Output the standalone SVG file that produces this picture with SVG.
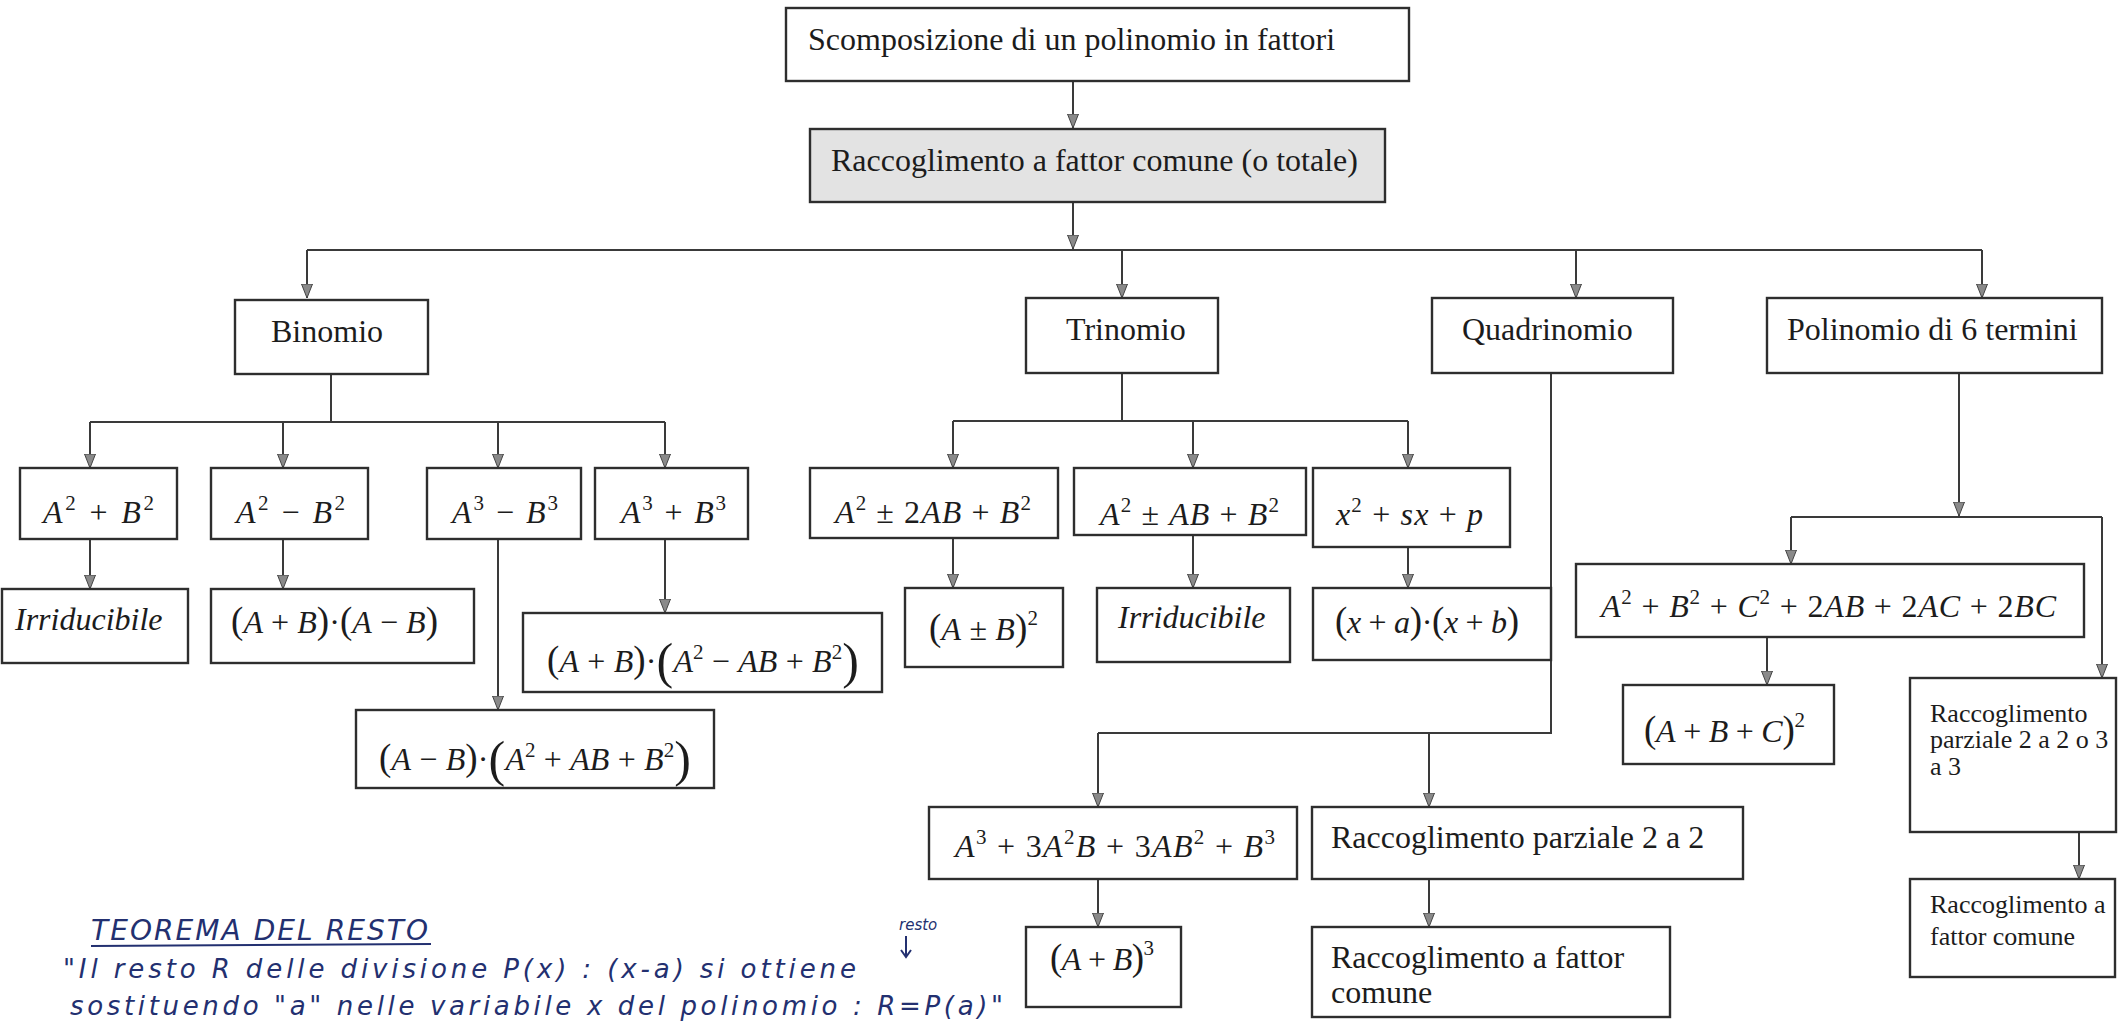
<svg xmlns="http://www.w3.org/2000/svg" width="2122" height="1027" viewBox="0 0 2122 1027">
<style>
.box{fill:#fff;stroke:#2e2e2e;stroke-width:2.4}
.gray{fill:#e3e3e3}
.conn path{fill:none;stroke:#3a3a3a;stroke-width:2}
text{font-family:"Liberation Serif","Times New Roman",serif;fill:#1c1c1c}
.t{font-size:32px}
.s{font-size:26px}
.m{font-size:32px}
.i{font-style:italic}
.sup{font-size:21px}
.p{font-size:37px}
.pb{font-size:50px}
.hw{font-family:"DejaVu Sans","Liberation Sans",sans-serif;font-style:italic;fill:#233070}
.hwl{fill:none;stroke:#233070;stroke-width:2}
</style>
<defs>
<marker id="arr" markerUnits="userSpaceOnUse" markerWidth="14" markerHeight="12" viewBox="0 0 14 12" refX="14" refY="6" orient="auto">
<path d="M0,0.5 L14,6 L0,11.5 z" fill="#8a8a8a" stroke="#444" stroke-width="1"/>
</marker>
</defs>
<rect width="2122" height="1027" fill="#fff"/>

<g id="connectors" class="conn">
<path d="M1073,81 V128" marker-end="url(#arr)"/>
<path d="M1073,202 V249" marker-end="url(#arr)"/>
<path d="M307,250 H1982"/>
<path d="M307,250 V298" marker-end="url(#arr)"/>
<path d="M1122,250 V298" marker-end="url(#arr)"/>
<path d="M1576,250 V298" marker-end="url(#arr)"/>
<path d="M1982,250 V298" marker-end="url(#arr)"/>
<!-- Binomio -->
<path d="M331,374 V422 M90,422 H665"/>
<path d="M90,422 V468" marker-end="url(#arr)"/>
<path d="M283,422 V468" marker-end="url(#arr)"/>
<path d="M498,422 V468" marker-end="url(#arr)"/>
<path d="M665,422 V468" marker-end="url(#arr)"/>
<path d="M90,539 V589" marker-end="url(#arr)"/>
<path d="M283,539 V589" marker-end="url(#arr)"/>
<path d="M498,539 V710" marker-end="url(#arr)"/>
<path d="M665,539 V613" marker-end="url(#arr)"/>
<!-- Trinomio -->
<path d="M1122,373 V421 M953,421 H1408"/>
<path d="M953,421 V468" marker-end="url(#arr)"/>
<path d="M1193,421 V468" marker-end="url(#arr)"/>
<path d="M1408,421 V468" marker-end="url(#arr)"/>
<path d="M953,538 V588" marker-end="url(#arr)"/>
<path d="M1193,535 V588" marker-end="url(#arr)"/>
<path d="M1408,547 V588" marker-end="url(#arr)"/>
<!-- Quadrinomio -->
<path d="M1551,373 V733 H1098"/>
<path d="M1098,733 V807" marker-end="url(#arr)"/>
<path d="M1429,733 V807" marker-end="url(#arr)"/>
<path d="M1098,879 V927" marker-end="url(#arr)"/>
<path d="M1429,879 V927" marker-end="url(#arr)"/>
<!-- Polinomio di 6 termini -->
<path d="M1959,373 V516" marker-end="url(#arr)"/>
<path d="M1791,517 H2102"/>
<path d="M1791,517 V564" marker-end="url(#arr)"/>
<path d="M2102,517 V678" marker-end="url(#arr)"/>
<path d="M1767,637 V685" marker-end="url(#arr)"/>
<path d="M2079,832 V879" marker-end="url(#arr)"/>
</g>

<g id="n-scomposizione"><rect class="box" x="786" y="8" width="623" height="73"/><text class="t" x="808" y="50">Scomposizione di un polinomio in fattori</text></g>
<g id="n-raccoglimento-totale"><rect class="box gray" x="810" y="129" width="575" height="73"/><text class="t" x="831" y="171">Raccoglimento a fattor comune (o totale)</text></g>
<g id="n-binomio"><rect class="box" x="235" y="300" width="193" height="74"/><text class="t" x="271" y="342">Binomio</text></g>
<g id="n-trinomio"><rect class="box" x="1026" y="298" width="192" height="75"/><text class="t" x="1066" y="340">Trinomio</text></g>
<g id="n-quadrinomio"><rect class="box" x="1432" y="298" width="241" height="75"/><text class="t" x="1462" y="340">Quadrinomio</text></g>
<g id="n-polinomio6"><rect class="box" x="1767" y="298" width="335" height="75"/><text class="t" x="1787" y="340">Polinomio di 6 termini</text></g>

<g id="n-a2pb2"><rect class="box" x="20" y="468" width="157" height="71"/><text class="m" x="43" y="523" textLength="111" lengthAdjust="spacing"><tspan class="i">A</tspan><tspan class="sup" dy="-13">2</tspan><tspan dy="13"> + </tspan><tspan class="i">B</tspan><tspan class="sup" dy="-13">2</tspan></text></g>
<g id="n-a2mb2"><rect class="box" x="211" y="468" width="157" height="71"/><text class="m" x="236" y="523" textLength="109" lengthAdjust="spacing"><tspan class="i">A</tspan><tspan class="sup" dy="-13">2</tspan><tspan dy="13"> − </tspan><tspan class="i">B</tspan><tspan class="sup" dy="-13">2</tspan></text></g>
<g id="n-a3mb3"><rect class="box" x="427" y="468" width="154" height="71"/><text class="m" x="452" y="523" textLength="106" lengthAdjust="spacing"><tspan class="i">A</tspan><tspan class="sup" dy="-13">3</tspan><tspan dy="13"> − </tspan><tspan class="i">B</tspan><tspan class="sup" dy="-13">3</tspan></text></g>
<g id="n-a3pb3"><rect class="box" x="595" y="468" width="153" height="71"/><text class="m" x="621" y="523" textLength="105" lengthAdjust="spacing"><tspan class="i">A</tspan><tspan class="sup" dy="-13">3</tspan><tspan dy="13"> + </tspan><tspan class="i">B</tspan><tspan class="sup" dy="-13">3</tspan></text></g>
<g id="n-irr1"><rect class="box" x="2" y="589" width="186" height="74"/><text class="m i" x="15" y="630">Irriducibile</text></g>
<g id="n-diffsq"><rect class="box" x="211" y="589" width="263" height="74"/><text class="m" x="231" y="633" textLength="207" lengthAdjust="spacing"><tspan class="p">(</tspan><tspan class="i">A</tspan> + <tspan class="i">B</tspan><tspan class="p">)</tspan>·<tspan class="p">(</tspan><tspan class="i">A</tspan> − <tspan class="i">B</tspan><tspan class="p">)</tspan></text></g>
<g id="n-sumcubes"><rect class="box" x="523" y="613" width="359" height="79"/><text class="m" x="547" y="672" textLength="312" lengthAdjust="spacing"><tspan class="p">(</tspan><tspan class="i">A</tspan> + <tspan class="i">B</tspan><tspan class="p">)</tspan>·<tspan class="pb" dy="6">(</tspan><tspan class="i" dy="-6">A</tspan><tspan class="sup" dy="-13">2</tspan><tspan dy="13"> − </tspan><tspan class="i">AB</tspan> + <tspan class="i">B</tspan><tspan class="sup" dy="-13">2</tspan><tspan class="pb" dy="19">)</tspan></text></g>
<g id="n-diffcubes"><rect class="box" x="356" y="710" width="358" height="78"/><text class="m" x="379" y="770" textLength="312" lengthAdjust="spacing"><tspan class="p">(</tspan><tspan class="i">A</tspan> − <tspan class="i">B</tspan><tspan class="p">)</tspan>·<tspan class="pb" dy="6">(</tspan><tspan class="i" dy="-6">A</tspan><tspan class="sup" dy="-13">2</tspan><tspan dy="13"> + </tspan><tspan class="i">AB</tspan> + <tspan class="i">B</tspan><tspan class="sup" dy="-13">2</tspan><tspan class="pb" dy="19">)</tspan></text></g>

<g id="n-sqtrinomio"><rect class="box" x="810" y="468" width="248" height="70"/><text class="m" x="835" y="523" textLength="196" lengthAdjust="spacing"><tspan class="i">A</tspan><tspan class="sup" dy="-13">2</tspan><tspan dy="13"> ± 2</tspan><tspan class="i">AB</tspan> + <tspan class="i">B</tspan><tspan class="sup" dy="-13">2</tspan></text></g>
<g id="n-falsosq"><rect class="box" x="1074" y="468" width="232" height="67"/><text class="m" x="1100" y="525" textLength="179" lengthAdjust="spacing"><tspan class="i">A</tspan><tspan class="sup" dy="-13">2</tspan><tspan dy="13"> ± </tspan><tspan class="i">AB</tspan> + <tspan class="i">B</tspan><tspan class="sup" dy="-13">2</tspan></text></g>
<g id="n-trinomiospeciale"><rect class="box" x="1313" y="468" width="197" height="79"/><text class="m" x="1336" y="525" textLength="147" lengthAdjust="spacing"><tspan class="i">x</tspan><tspan class="sup" dy="-13">2</tspan><tspan dy="13"> + </tspan><tspan class="i">sx</tspan> + <tspan class="i">p</tspan></text></g>
<g id="n-sqbinomio"><rect class="box" x="905" y="588" width="158" height="79"/><text class="m" x="929" y="640" textLength="109" lengthAdjust="spacing"><tspan class="p">(</tspan><tspan class="i">A</tspan> ± <tspan class="i">B</tspan><tspan class="p">)</tspan><tspan class="sup" dy="-15">2</tspan></text></g>
<g id="n-irr2"><rect class="box" x="1097" y="588" width="193" height="74"/><text class="m i" x="1118" y="628">Irriducibile</text></g>
<g id="n-xaxb"><rect class="box" x="1313" y="588" width="238" height="72"/><text class="m" x="1335" y="633" textLength="184" lengthAdjust="spacing"><tspan class="p">(</tspan><tspan class="i">x</tspan> + <tspan class="i">a</tspan><tspan class="p">)</tspan>·<tspan class="p">(</tspan><tspan class="i">x</tspan> + <tspan class="i">b</tspan><tspan class="p">)</tspan></text></g>

<g id="n-cubo"><rect class="box" x="929" y="807" width="368" height="72"/><text class="m" x="955" y="857" textLength="320" lengthAdjust="spacing"><tspan class="i">A</tspan><tspan class="sup" dy="-13">3</tspan><tspan dy="13"> + 3</tspan><tspan class="i">A</tspan><tspan class="sup" dy="-13">2</tspan><tspan class="i" dy="13">B</tspan> + 3<tspan class="i">AB</tspan><tspan class="sup" dy="-13">2</tspan><tspan dy="13"> + </tspan><tspan class="i">B</tspan><tspan class="sup" dy="-13">3</tspan></text></g>
<g id="n-cubobinomio"><rect class="box" x="1026" y="927" width="155" height="80"/><text class="m" x="1050" y="970" textLength="104" lengthAdjust="spacing"><tspan class="p">(</tspan><tspan class="i">A</tspan> + <tspan class="i">B</tspan><tspan class="p">)</tspan><tspan class="sup" dy="-15">3</tspan></text></g>
<g id="n-parziale22"><rect class="box" x="1312" y="807" width="431" height="72"/><text class="t" x="1331" y="848">Raccoglimento parziale 2 a 2</text></g>
<g id="n-fattorcomune1"><rect class="box" x="1312" y="927" width="358" height="90"/><text class="t" x="1331" y="968">Raccoglimento a fattor</text><text class="t" x="1331" y="1003">comune</text></g>

<g id="n-seitermini"><rect class="box" x="1576" y="564" width="508" height="73"/><text class="m" x="1601" y="617" textLength="455" lengthAdjust="spacing"><tspan class="i">A</tspan><tspan class="sup" dy="-13">2</tspan><tspan dy="13"> + </tspan><tspan class="i">B</tspan><tspan class="sup" dy="-13">2</tspan><tspan dy="13"> + </tspan><tspan class="i">C</tspan><tspan class="sup" dy="-13">2</tspan><tspan dy="13"> + 2</tspan><tspan class="i">AB</tspan> + 2<tspan class="i">AC</tspan> + 2<tspan class="i">BC</tspan></text></g>
<g id="n-sqtrinomio3"><rect class="box" x="1623" y="685" width="211" height="79"/><text class="m" x="1644" y="742" textLength="161" lengthAdjust="spacing"><tspan class="p">(</tspan><tspan class="i">A</tspan> + <tspan class="i">B</tspan> + <tspan class="i">C</tspan><tspan class="p">)</tspan><tspan class="sup" dy="-15">2</tspan></text></g>
<g id="n-parziale23"><rect class="box" x="1910" y="678" width="206" height="154"/><text class="s" x="1930" y="722">Raccoglimento</text><text class="s" x="1930" y="748">parziale 2 a 2 o 3</text><text class="s" x="1930" y="775">a 3</text></g>
<g id="n-fattorcomune2"><rect class="box" x="1910" y="879" width="205" height="98"/><text class="s" x="1930" y="913">Raccoglimento a</text><text class="s" x="1930" y="945">fattor comune</text></g>

<g id="nota-teorema-resto">
<text class="hw" x="91" y="940" font-size="28" textLength="337" lengthAdjust="spacing">TEOREMA DEL RESTO</text>
<path class="hwl" d="M91,946 L431,944"/>
<text class="hw" x="63" y="978" font-size="26" textLength="793" lengthAdjust="spacing">"Il resto R delle divisione  P(x) : (x-a) si ottiene</text>
<text class="hw" x="70" y="1015" font-size="26" textLength="933" lengthAdjust="spacing">sostituendo "a" nelle variabile x del polinomio : R=P(a)"</text>
<text class="hw" x="899" y="930" font-size="15">resto</text>
<path class="hwl" d="M906,936 V956 M901,950 L906,957 L911,950" stroke-width="1.5"/>
</g>
</svg>
